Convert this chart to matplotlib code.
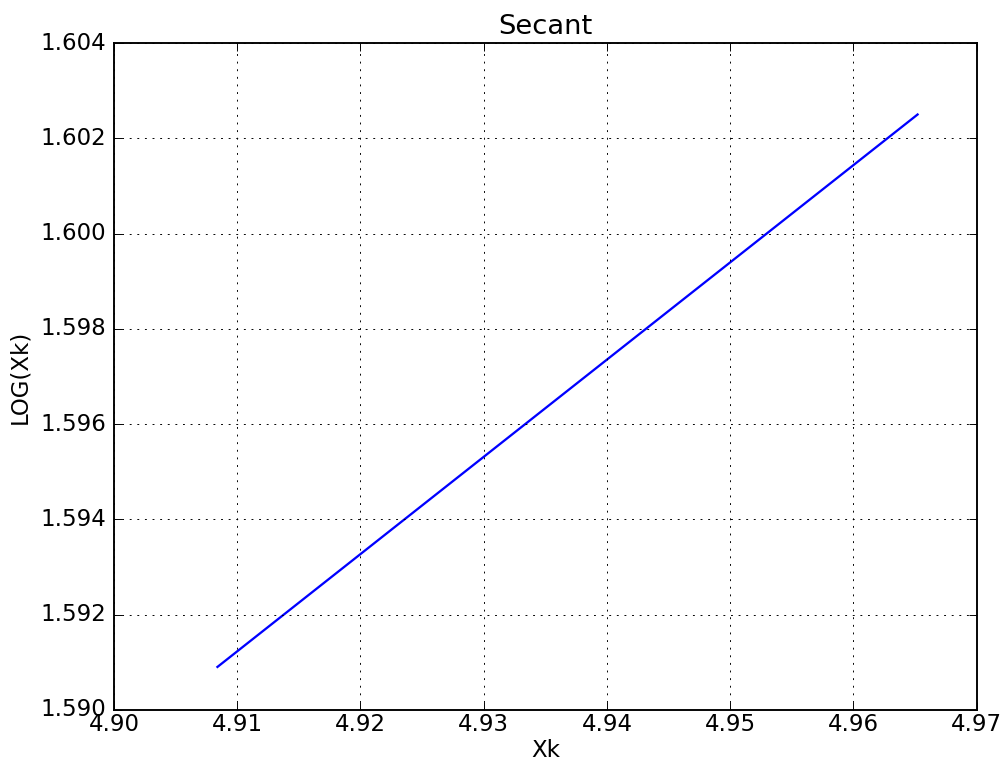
import matplotlib
matplotlib.use('Agg')
import matplotlib.pyplot as plt

plt.style.use('classic')

# values
xk = [4.9084, 4.9652]
log_xk = [1.5909, 1.6025]

dpi = 137
fig = plt.figure(figsize=(1008 / dpi, 769 / dpi), dpi=dpi, facecolor='white')
ax = fig.add_axes([0.113, 0.077, 0.856, 0.867])
ax.plot(xk, log_xk, 'b-', lw=1.2)
ax.set_xlim(4.90, 4.97)
ax.set_ylim(1.590, 1.604)
ax.set_xticks([4.90, 4.91, 4.92, 4.93, 4.94, 4.95, 4.96, 4.97])
ax.set_yticks([1.590, 1.592, 1.594, 1.596, 1.598, 1.600, 1.602, 1.604])
ax.xaxis.set_major_formatter(matplotlib.ticker.FormatStrFormatter('%.2f'))
ax.yaxis.set_major_formatter(matplotlib.ticker.FormatStrFormatter('%.3f'))
ax.tick_params(axis='x', pad=1.5)
ax.grid(True)
ax.set_xlabel('Xk', labelpad=2)
ax.set_ylabel('LOG(Xk)')
ax.set_title('Secant')
fig.savefig('out.png', dpi=dpi, facecolor='white')
